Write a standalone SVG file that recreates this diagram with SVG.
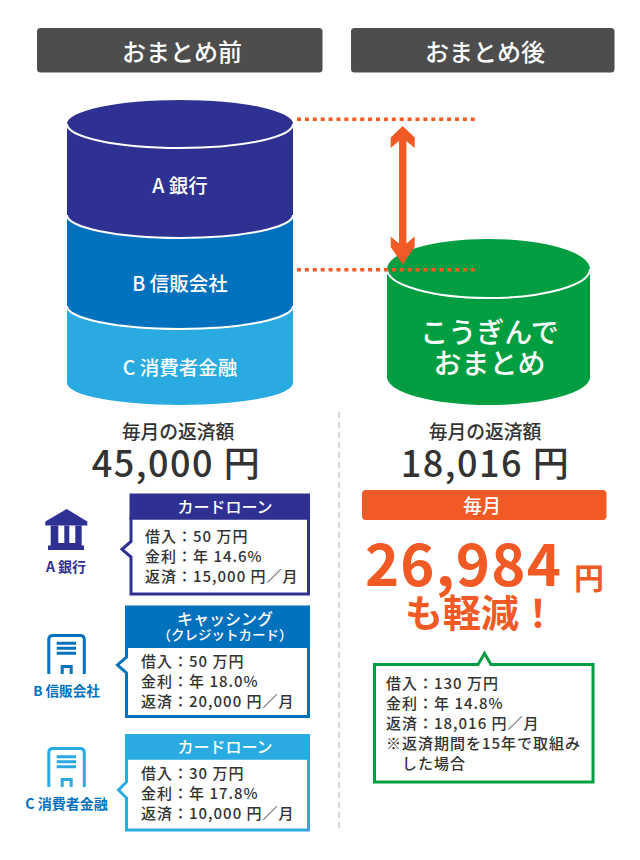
<svg xmlns="http://www.w3.org/2000/svg" width="640" height="860" viewBox="0 0 640 860">
<style>
text{font-family:"Noto Sans CJK JP","Noto Sans",sans-serif;text-anchor:middle}
.w{fill:#fff;font-weight:500}
.d{fill:#333;font-weight:500}
.o{fill:#f15a24;font-weight:700}
.info{fill:#333;font-weight:500;font-size:15px;text-anchor:start;letter-spacing:1px}
.rim{fill:none;stroke:#fff;stroke-width:2}
.dot{fill:none;stroke:#f15a24;stroke-width:3.6;stroke-dasharray:4 3.9}
</style>
<rect width="640" height="860" fill="#fff"/>
<g id="header-before"><rect x="37" y="28" width="285.500" height="44.500" rx="3.500" fill="#4d4d4d"/><text x="182" y="61" class="w" font-size="24">おまとめ前</text></g>
<g id="header-after"><rect x="351" y="28" width="263.500" height="44.500" rx="3.500" fill="#4d4d4d"/><text x="485" y="61" class="w" font-size="24">おまとめ後</text></g>

<g id="cyl-c"><path d="M67 300H293V383A113 22 0 0 1 67 383Z" fill="#29abe2"/><text x="180" y="375" class="w" font-size="19.500">C 消費者金融</text></g>
<g id="cyl-b"><path d="M67 210H293V306A113 23 0 0 1 67 306Z" fill="#0071bc"/><path class="rim" d="M67 306A113 23 0 0 0 293 306"/><text x="180" y="291" class="w" font-size="19.500">B 信販会社</text></g>
<g id="cyl-a"><path d="M67 124A113 24 0 0 1 293 124V215A113 23 0 0 1 67 215Z" fill="#2e3192"/><path class="rim" d="M67 215A113 23 0 0 0 293 215"/><path class="rim" stroke-width="1.500" d="M67 124A113 24 0 0 0 293 124"/><text x="180" y="193" class="w" font-size="19.500">A 銀行</text></g>
<g id="cyl-green"><path d="M387 269A101.500 30 0 0 1 590 269V377A101.500 28 0 0 1 387 377Z" fill="#009e41"/><path class="rim" d="M387 269A101.500 29 0 0 0 590 269"/><text x="489.500" y="343" class="w" font-size="28">こうぎんで</text><text x="489.500" y="374" class="w" font-size="28">おまとめ</text></g>

<g id="connectors">
<path class="dot" d="M297 119.300H478"/>
<path class="dot" d="M297 269.700H478"/>
<path d="M402.700 126L414.700 137.500V148L406.400 141V243.500L414.700 236.500V247L402.700 264.500L390.700 247V236.500L399 243.500V141L390.700 148V137.500Z" fill="#f15a24"/>
<path d="M339 412V828" fill="none" stroke="#ccc" stroke-width="1.500" stroke-dasharray="6 4"/>
</g>

<g id="total-before"><text x="178" y="438.500" class="d" font-size="18.800">毎月の返済額</text><text x="176.500" y="476.700" class="d" font-size="36" letter-spacing="1.500">45,000 円</text></g>
<g id="total-after"><text x="485" y="439" class="d" font-size="18.800">毎月の返済額</text><text x="485.500" y="476.700" class="d" font-size="36" letter-spacing="1.500">18,016 円</text></g>

<g id="bar"><rect x="362" y="490" width="244.500" height="30" rx="4" fill="#f15a24"/><text x="482" y="513" class="w" font-size="19" font-weight="700">毎月</text></g>
<g id="saving"><text x="463.500" y="585.700" class="o" font-size="58" letter-spacing="1.200">26,984</text><text x="589" y="589" class="o" font-size="30">円</text><text x="481" y="627" class="o" font-size="38">も軽減！</text></g>

<g id="icon-a" fill="#2e3192"><path d="M66.700 509L87.300 521.500V525.500H45.300V521.500Z"/><path d="M50.700 525.500H58.300V543H64.300V525.500H69.300V543H75.300V525.500H81.700V545.500H84V550H48V545.500H50.700Z"/><text x="66" y="572" font-size="14" font-weight="700" fill="#2e3192">A 銀行</text></g>
<g id="icon-b"><path d="M48.800 674V639A4 4 0 0 1 52.800 635.500H80.500A4 4 0 0 1 84.300 639V674M56.700 643.300H76M56.700 648.300H76M56.700 653.300H76M62.200 674V666.500H71.200V674" fill="none" stroke="#0071bc" stroke-width="3"/><text x="66.500" y="696" font-size="13.600" font-weight="700" fill="#0071bc">B 信販会社</text></g>
<g id="icon-c"><path d="M48.800 787V752A4 4 0 0 1 52.800 748.500H80.500A4 4 0 0 1 84.300 752V787M56.700 756.700H76M56.700 761.700H76M56.700 766.700H76M62.200 787V779.500H71.200V787" fill="none" stroke="#29abe2" stroke-width="3"/><text x="66.500" y="809" font-size="14" font-weight="700" fill="#0071bc">C 消費者金融</text></g>

<g id="box-a"><path d="M131 518H308.500V594H131V557L122 549.300L131 541.500Z" fill="#fff" stroke="#2e3192" stroke-width="3"/><rect x="129.500" y="493.500" width="180.500" height="26" fill="#2e3192"/><text x="225" y="513" class="w" font-size="16">カードローン</text><text x="145" y="541.500" class="info">借入：50 万円</text><text x="145" y="561.500" class="info">金利：年 14.6%</text><text x="145" y="581.500" class="info">返済：15,000 円／月</text></g>
<g id="box-b"><path d="M126.500 646H308.500V716.500H126.500V673L117.500 665L126.500 657Z" fill="#fff" stroke="#0071bc" stroke-width="3"/><rect x="125" y="605.500" width="185" height="42.500" fill="#0071bc"/><text x="225" y="624.500" class="w" font-size="16">キャッシング</text><text x="225" y="640" class="w" font-size="13.500">（クレジットカード）</text><text x="141" y="666.500" class="info">借入：50 万円</text><text x="141" y="686.500" class="info">金利：年 18.0%</text><text x="141" y="706.500" class="info">返済：20,000 円／月</text></g>
<g id="box-c"><path d="M126.500 758H308.500V830H126.500V798L118.500 790L126.500 782Z" fill="#fff" stroke="#29abe2" stroke-width="3"/><rect x="125" y="734" width="185" height="25.500" fill="#29abe2"/><text x="225" y="752.500" class="w" font-size="16">カードローン</text><text x="141" y="779" class="info">借入：30 万円</text><text x="141" y="799" class="info">金利：年 17.8%</text><text x="141" y="819" class="info">返済：10,000 円／月</text></g>
<g id="box-green"><path d="M374.500 664.500H478L484.500 653.500L491 664.500H593V782H374.500Z" fill="#fff" stroke="#009e41" stroke-width="3"/><text x="386" y="689" class="info">借入：130 万円</text><text x="386" y="709" class="info">金利：年 14.8%</text><text x="386" y="729" class="info">返済：18,016 円／月</text><text x="386" y="749" class="info">※返済期間を15年で取組み</text><text x="402" y="769" class="info">した場合</text></g>
</svg>
